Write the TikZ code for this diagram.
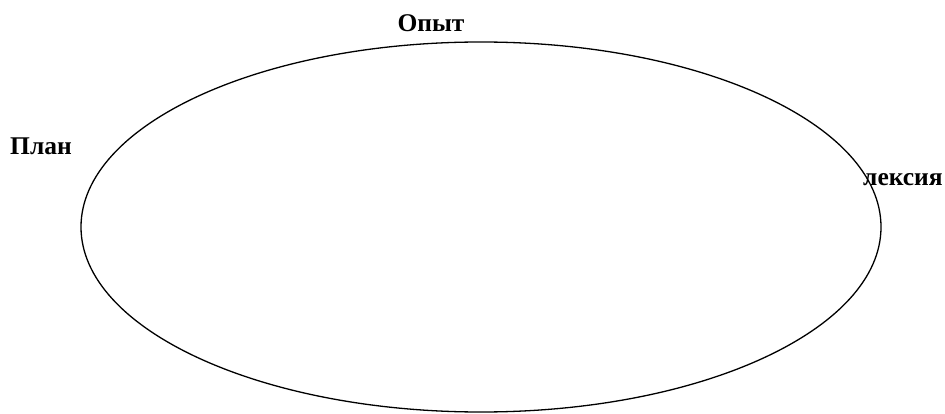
\documentclass[tikz,border=0pt]{standalone}
\usepackage{fontspec}
\setmainfont{Liberation Serif}
\usetikzlibrary{positioning, shapes.geometric}

\begin{document}
\begin{tikzpicture}[
    x=1pt, y=-1pt,
    cycle/.style={draw, ellipse, line width=1.3pt, minimum width=800pt, minimum height=370pt, inner sep=0pt},
    stage/.style={font=\fontsize{25.5}{30}\selectfont\bfseries, inner sep=0pt}
]
\useasboundingbox (0,0) rectangle (945,414);

% ================= Ellipse =================
\node[cycle] (loop) at (481, 227) {};

% ================= Labels =================
\node[stage, anchor=base] (exp) at (431, 32) {Опыт};
\node[stage, anchor=base west] (plan) at (10, 155) {План};
\node[stage, anchor=base west] (refl) at (863, 186) {лексия};

\end{tikzpicture}
\end{document}
